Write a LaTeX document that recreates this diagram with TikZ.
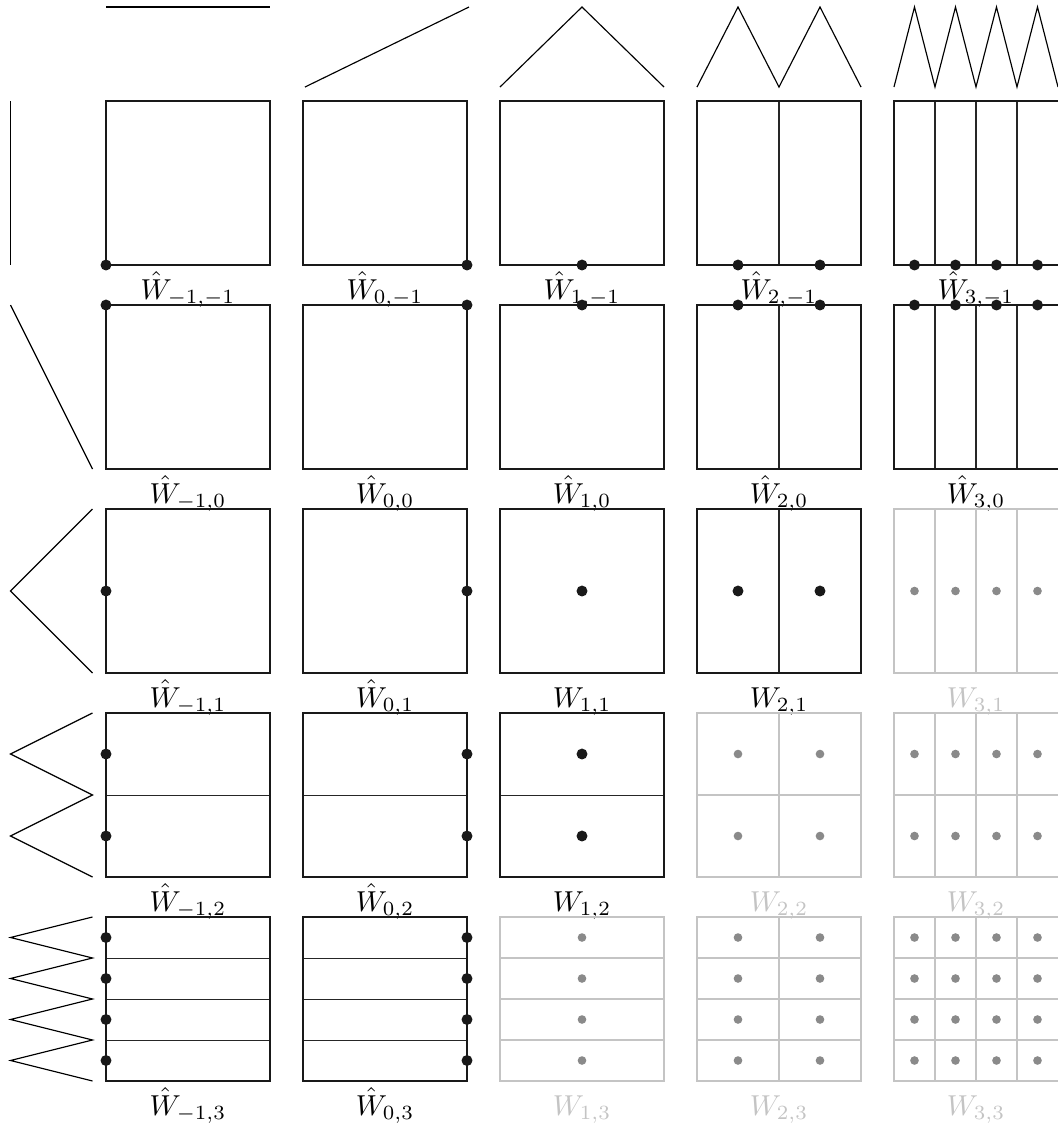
\documentclass[tikz,border=0pt]{standalone}
\definecolor{lgrey}{HTML}{C4C4C4}
\definecolor{dgrey}{HTML}{8A8A8A}
\definecolor{lblgrey}{HTML}{C4C4C4}
\newcommand\ptlist[1]{\ifcase#1 0\or 1\or 0.5\or 0.25,0.75\or 0.125,0.375,0.625,0.875\fi}
\newcommand\lnlist[1]{\ifcase#1 \or \or \or 0.5\or 0.25,0.5,0.75\fi}
\begin{document}
\begin{tikzpicture}[x=0.0121951cm,y=-0.0121951cm,
  frame/.style={line width=0.55pt,black!90},
  inner/.style={line width=0.35pt,black!85},
  gframe/.style={line width=0.45pt,lgrey},
  fn/.style={line width=0.4pt,black,line join=miter},
  bdot/.style={fill=black!90},
  gdot/.style={fill=dgrey},
  lab/.style={anchor=base,inner sep=0pt}]
\useasboundingbox (0,0) rectangle (1058,1126);

% 1D basis functions along x (top)
\draw[fn] (106,7) -- (270,7);
\draw[fn] (305,87) -- (469,7);
\draw[fn] (500,87) -- (582,7) -- (664,87);
\draw[fn] (697,87) -- (738,7) -- (779,87) -- (820,7) -- (861,87);
\draw[fn] (894,87) -- (914.5,7) -- (935,87) -- (955.5,7) -- (976,87) -- (996.5,7) -- (1017,87) -- (1037.5,7) -- (1058,87);

% 1D basis functions along y (left)
\draw[fn] (10.5,101) -- (10.5,265);
\draw[fn] (10.5,305) -- (92.5,469);
\draw[fn] (92.5,509) -- (10.5,591) -- (92.5,673);
\draw[fn] (92.5,713) -- (10.5,754) -- (92.5,795) -- (10.5,836) -- (92.5,877);
\draw[fn] (92.5,917) -- (10.5,937.5) -- (92.5,958) -- (10.5,978.5) -- (92.5,999) -- (10.5,1019.5) -- (92.5,1040) -- (10.5,1060.5) -- (92.5,1081);

% subspaces
\foreach \i in {0,...,4}{
 \foreach \j in {0,...,4}{
  \pgfmathsetmacro\xo{106+197*\i}
  \pgfmathsetmacro\yo{101+204*\j}
  \pgfmathsetmacro\xe{\xo+164}
  \pgfmathsetmacro\ye{\yo+164}
  \pgfmathtruncatemacro\g{((\i>=2)&&(\j>=2)&&(\i+\j>=6)) ? 1 : 0}
  \pgfmathtruncatemacro\hatq{((\i<=1)||(\j<=1)) ? 1 : 0}
  \pgfmathtruncatemacro\la{\i-1}
  \pgfmathtruncatemacro\lb{\j-1}
  \edef\px{\ptlist{\i}}
  \edef\py{\ptlist{\j}}
  \ifnum\g=1
    \def\fst{gframe}\def\ist{gframe}\def\dst{gdot}\def\dr{1.5pt}\def\tcol{lblgrey}
  \else
    \def\fst{frame}\def\ist{inner}\def\dst{bdot}\def\dr{1.9pt}\def\tcol{black}
  \fi
  % inner vertical lines
  \ifnum\i>2
    \edef\lx{\lnlist{\i}}
    \foreach \f in \lx {\draw[\ist] ({\xo+164*\f},\yo) -- ({\xo+164*\f},\ye);}
  \fi
  % inner horizontal lines
  \ifnum\j>2
    \edef\ly{\lnlist{\j}}
    \foreach \f in \ly {\draw[\ist] (\xo,{\ye-164*\f}) -- (\xe,{\ye-164*\f});}
  \fi
  % frame
  \ifnum\i=4
    \draw[\fst] (\xe,\yo) -- (\xo,\yo) -- (\xo,\ye) -- (\xe,\ye);
  \else
    \draw[\fst] (\xo,\yo) rectangle (\xe,\ye);
  \fi
  % grid points
  \foreach \fx in \px {
    \foreach \fy in \py {
      \fill[\dst] ({\xo+164*\fx},{\ye-164*\fy}) circle[radius=\dr];
    }
  }
  % label
  \ifnum\hatq=1
    \node[lab,text=\tcol] (L\i\j) at ({\xo+82},{\ye+34}) {$\hat{W}_{\la,\lb}$};
  \else
    \node[lab,text=\tcol] (L\i\j) at ({\xo+82},{\ye+34}) {$W_{\la,\lb}$};
  \fi
 }
}
\end{tikzpicture}
\end{document}
